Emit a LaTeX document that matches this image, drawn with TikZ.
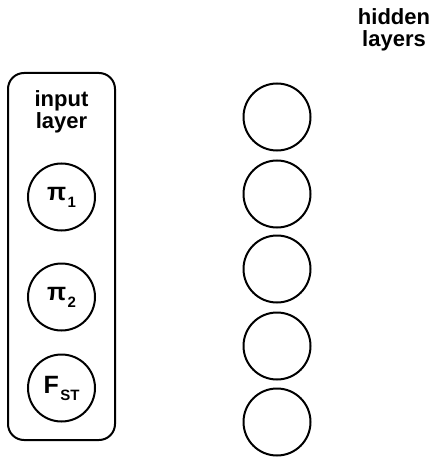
\documentclass[tikz,border=0pt]{standalone}
\usepackage{fontspec}
\setmainfont{Liberation Sans}
\newcommand{\sublbl}[2]{{\fontsize{25}{25}\selectfont\bfseries #1}\kern1.5pt\raisebox{-7pt}{\fontsize{15}{15}\selectfont\bfseries #2}}
\begin{document}
\begin{tikzpicture}[x=1pt,y=-1pt,
  neuron/.style={circle,draw,line width=2pt,minimum size=67pt,inner sep=0pt},
  inbox/.style={rectangle,draw,line width=2pt,rounded corners=16pt,minimum width=107pt,minimum height=367pt,inner sep=0pt},
  lbl/.style={align=center,inner sep=0pt,font=\bfseries\fontsize{22}{21.5}\selectfont}]
\useasboundingbox (0,0) rectangle (433,457);
\node[inbox] (box) at (61.5,256.5) {};
\node[lbl] (inlbl) at (61.5,112) {input\\layer};
\node[neuron] (i1) at (61.5,197) {\sublbl{π}{1}};
\node[neuron] (i2) at (61.5,297) {\sublbl{π}{2}};
\node[neuron] (i3) at (61.5,388) {\sublbl{F}{ST}};
\node[neuron] (h1) at (277,117) {};
\node[neuron] (h2) at (277,194) {};
\node[neuron] (h3) at (277,269) {};
\node[neuron] (h4) at (277,346) {};
\node[neuron] (h5) at (277,422) {};
\node[lbl] (hidlbl) at (394,30) {hidden\\layers};
\end{tikzpicture}
\end{document}
